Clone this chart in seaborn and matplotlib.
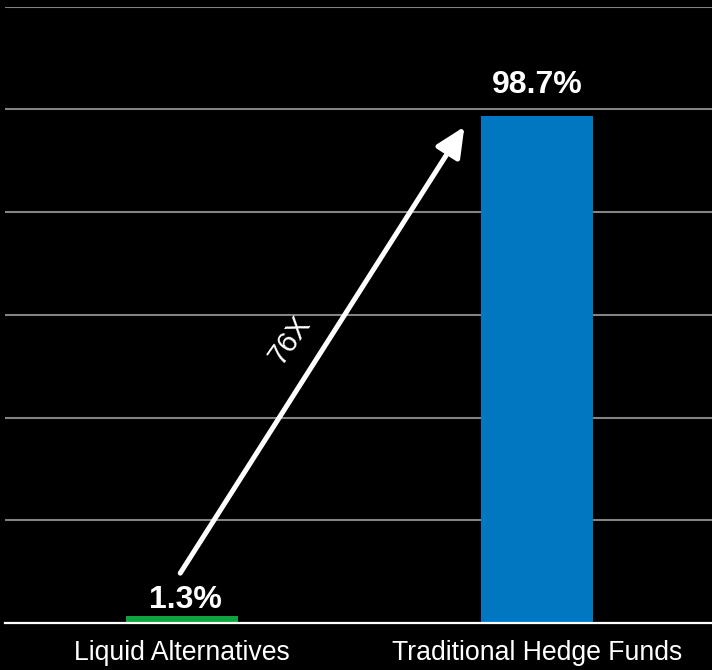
import matplotlib
matplotlib.use("Agg")
import matplotlib.pyplot as plt
import seaborn as sns
import pandas as pd

# Share of assets by fund type
categories = ["Liquid Alternatives", "Traditional Hedge Funds"]
shares = [1.3, 98.7]
value_labels = ["1.3%", "98.7%"]
bar_colors = ["#12A041", "#0077C0"]
multiple_label = "76X"

df = pd.DataFrame({"category": categories, "share": shares})

sns.set_theme(style="dark", rc={
    "figure.facecolor": "black",
    "axes.facecolor": "black",
    "savefig.facecolor": "black",
})
plt.rcParams["font.family"] = ["Liberation Sans", "DejaVu Sans"]

fig = plt.figure(figsize=(7.12, 6.70), dpi=100)
ax = fig.add_axes([5 / 712, 1 - 623 / 670, 1 - 5 / 712, (623 - 6.5) / 670])

sns.barplot(data=df, x="category", y="share", hue="category",
            palette=bar_colors, width=0.315, saturation=1,
            edgecolor="none", linewidth=0,
            legend=False, ax=ax, zorder=3)

ax.set_ylim(0, 120)
ax.set_xlim(-0.5, 1.493)
ax.set_yticks(range(20, 121, 20))
ax.set_yticklabels([])
ax.yaxis.grid(True, color="#838383", linewidth=1.5, zorder=0)
ax.xaxis.grid(False)
ax.set_axisbelow(True)
ax.set_xlabel("")
ax.set_ylabel("")

for side in ["top", "left", "right"]:
    ax.spines[side].set_visible(False)
ax.spines["bottom"].set_color("white")
ax.spines["bottom"].set_linewidth(1.6)
ax.spines["bottom"].set_zorder(4)

ax.tick_params(axis="x", length=0, pad=12, labelsize=19.2, labelcolor="white")
ax.tick_params(axis="y", length=0)

# Value labels above each bar
label_x = [0.008, 0.0]
label_y = [2.9, 103.2]
for i, (txt, yv) in enumerate(zip(value_labels, label_y)):
    ax.text(i + label_x[i], yv, txt, ha="center", va="baseline", color="white",
            fontsize=23, fontweight="bold", zorder=5)

# Growth arrow from the small bar to the large one
ax.annotate("", xy=(0.795, 96.6), xytext=(-0.006, 9.7),
            arrowprops=dict(arrowstyle="-|>,head_length=0.9,head_width=0.42",
                            color="white", lw=3.6, shrinkA=0, shrinkB=0,
                            mutation_scale=20),
            zorder=6)
ax.text(0.304, 55.1, multiple_label, ha="center", va="center",
        rotation=55, rotation_mode="anchor", color="white",
        fontsize=21, zorder=6)

fig.savefig("out.png", dpi=100, facecolor="black")
